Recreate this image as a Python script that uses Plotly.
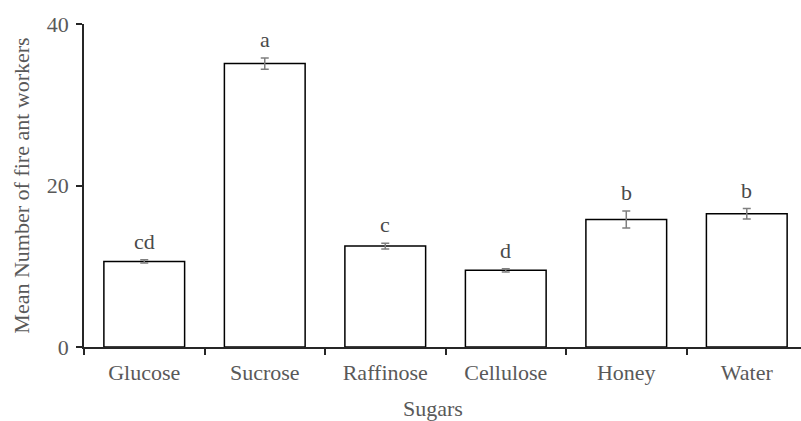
import plotly.graph_objects as go

categories = ["Glucose", "Sucrose", "Raffinose", "Cellulose", "Honey", "Water"]
means = [10.6, 35.1, 12.5, 9.5, 15.8, 16.5]
errors = [0.2, 0.7, 0.35, 0.2, 1.05, 0.65]
letters = ["cd", "a", "c", "d", "b", "b"]

FONT = "Liberation Serif, Times New Roman, serif"
GRAY = "#595959"

fig = go.Figure()
fig.add_trace(go.Bar(
    x=categories, y=means, width=0.67,
    marker=dict(color="white", line=dict(color="black", width=1.5)),
    error_y=dict(type="data", array=errors, visible=True, color="#7f7f7f", thickness=1.5, width=4),
    showlegend=False,
))

for c, m, e, l in zip(categories, means, errors, letters):
    fig.add_annotation(x=c, y=m + e, text=l, showarrow=False, yanchor="bottom", yshift=4,
                       font=dict(family=FONT, size=22, color="#4a4a4a"))

fig.add_annotation(xref="paper", yref="paper", x=(432.5 - 84) / 717, y=-(409 - 347) / 323.5,
                   yanchor="middle", xanchor="center", text="Sugars", showarrow=False,
                   font=dict(family=FONT, size=22, color=GRAY))

fig.update_layout(
    width=801, height=421,
    margin=dict(l=84, r=0, t=23.5, b=73.5),
    plot_bgcolor="white", paper_bgcolor="white",
    font=dict(family=FONT, size=22, color=GRAY),
    xaxis=dict(
        type="category", range=[-0.5, 5.45], tickson="boundaries",
        showline=True, linecolor="#262626", linewidth=1.5,
        ticks="outside", ticklen=6, tickcolor="#262626", tickwidth=1.5,
        tickfont=dict(family=FONT, size=22, color=GRAY), ticklabelstandoff=5,
        showgrid=False, zeroline=False,
    ),
    yaxis=dict(
        range=[0, 40], tickvals=[0, 20, 40],
        showline=True, linecolor="#262626", linewidth=1.5,
        ticks="outside", ticklen=6, tickcolor="#262626", tickwidth=1.5,
        tickfont=dict(family=FONT, size=22, color=GRAY), ticklabelstandoff=3,
        showgrid=False, zeroline=False,
        title=dict(text="Mean Number of fire ant workers", font=dict(family=FONT, size=22, color=GRAY), standoff=11),
    ),
)

fig.write_html("out.html")
